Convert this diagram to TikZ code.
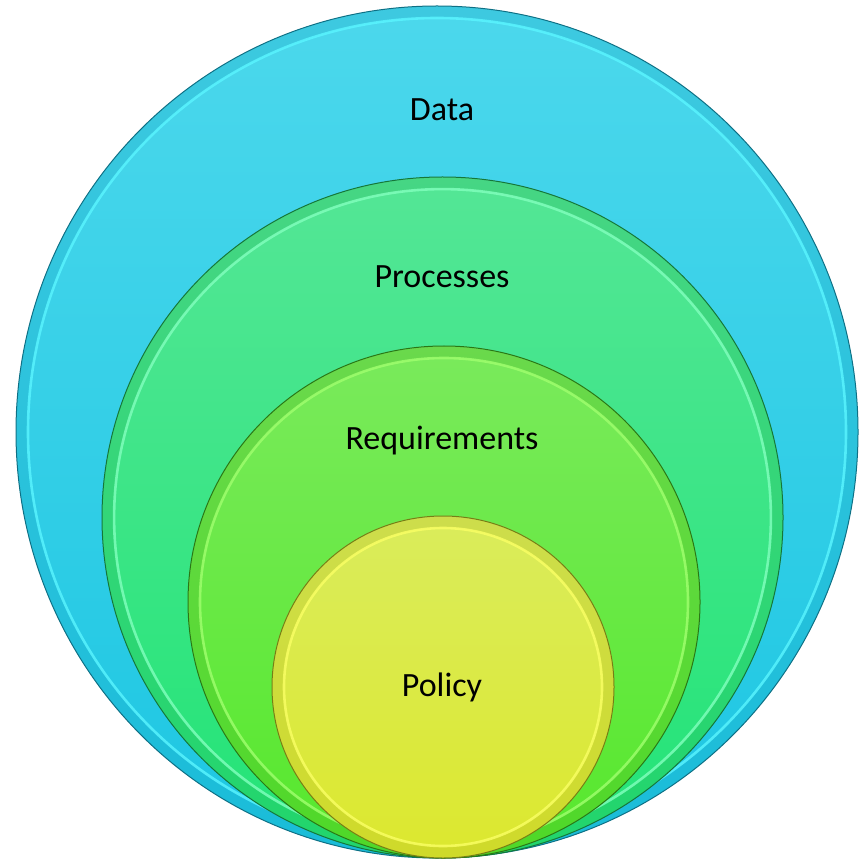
\documentclass[tikz,border=0pt]{standalone}
\usepackage{fontspec}
\setmainfont{Carlito}
\begin{document}
\begin{tikzpicture}[x=0.5pt,y=-0.5pt,
  lbl/.style={font=\fontsize{17pt}{20pt}\selectfont, text=black, inner sep=0pt},
  band/.style={line width=5.5pt, draw=#1, opacity=0.25},
  hilite/.style={line width=1.3pt, draw=#1, opacity=0.8},
  rim/.style={line width=0.5pt, draw=#1}]
\useasboundingbox (0,0) rectangle (860,860);
\coordinate (cD) at (437,432);
\coordinate (cP) at (442.5,517.5);
\coordinate (cR) at (444,602);
\coordinate (cY) at (443,687);
\definecolor{dTop}{RGB}{76,216,236}
\definecolor{dBot}{RGB}{28,198,226}
\definecolor{dDark}{RGB}{20,160,190}
\definecolor{dLight}{RGB}{90,245,255}
\definecolor{pTop}{RGB}{84,230,150}
\definecolor{pBot}{RGB}{34,228,118}
\definecolor{pDark}{RGB}{30,170,80}
\definecolor{pLight}{RGB}{130,255,190}
\definecolor{rTop}{RGB}{122,234,92}
\definecolor{rBot}{RGB}{86,232,44}
\definecolor{rDark}{RGB}{60,170,30}
\definecolor{rLight}{RGB}{160,255,110}
\definecolor{yTop}{RGB}{218,236,92}
\definecolor{yBot}{RGB}{220,232,46}
\definecolor{yDark}{RGB}{170,180,30}
\definecolor{yLight}{RGB}{250,255,100}
% Data
\shade[top color=dTop,bottom color=dBot] (cD) ellipse[x radius=210.5pt,y radius=213pt];
\draw[band=dDark] (cD) ellipse[x radius=207.5pt,y radius=210pt];
\draw[hilite=dLight] (cD) ellipse[x radius=204.5pt,y radius=207pt];
\draw[rim=dDark!70!black] (cD) ellipse[x radius=210.5pt,y radius=213pt];
% Processes
\shade[top color=pTop,bottom color=pBot] (cP) circle[radius=170.25pt];
\draw[band=pDark] (cP) circle[radius=167.25pt];
\draw[hilite=pLight] (cP) circle[radius=164.2pt];
\draw[rim=pDark!70!black] (cP) circle[radius=170.25pt];
% Requirements
\shade[top color=rTop,bottom color=rBot] (cR) circle[radius=128pt];
\draw[band=rDark] (cR) circle[radius=125pt];
\draw[hilite=rLight] (cR) circle[radius=122pt];
\draw[rim=rDark!70!black] (cR) circle[radius=128pt];
% Policy
\shade[top color=yTop,bottom color=yBot] (cY) circle[radius=85.5pt];
\draw[band=yDark] (cY) circle[radius=82.5pt];
\draw[hilite=yLight] (cY) circle[radius=79.5pt];
\draw[rim=yDark!70!black] (cY) circle[radius=85.5pt];
% labels
\node[lbl] (data) at (442,110) {Data};
\node[lbl] (proc) at (442,277) {Processes};
\node[lbl] (req) at (442,441) {Requirements};
\node[lbl] (pol) at (442,687) {Policy};
\end{tikzpicture}
\end{document}
